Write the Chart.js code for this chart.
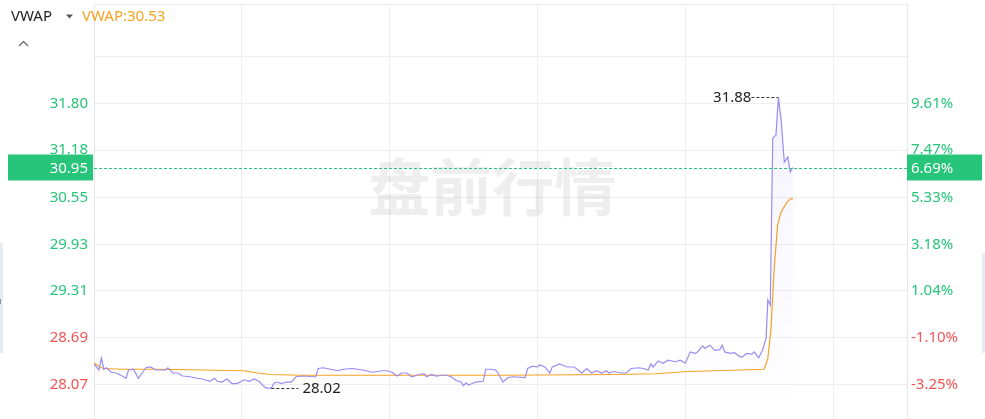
<!DOCTYPE html>
<html>
<head>
<meta charset="utf-8">
<script src="https://cdn.jsdelivr.net/npm/chart.js@4.4.0/dist/chart.umd.min.js"></script>
<style>
  html, body { margin: 0; padding: 0; background: #fff; }
  #wrap { width: 985px; height: 419px; position: relative; }
</style>
</head>
<body>
<div id="wrap"><canvas id="chart" width="985" height="419"></canvas></div>
<script>
// minutes after 04:00 (premarket), price of each tick
const times = [0, 2, 3, 4, 5, 7, 9, 12, 13, 14, 16, 18, 20, 21, 23, 25, 29, 30, 32, 34, 36, 39, 42, 44, 47, 49, 50, 52, 54, 56, 58,
  61, 63, 65, 67, 69, 70, 72, 73, 74, 76, 78, 80, 82, 85, 89, 90, 91, 93, 96, 99, 101, 105, 109, 113, 117, 119,
  121, 123, 125, 127, 129, 132, 134, 135, 137, 139, 141, 143, 145, 147, 149, 150, 151, 152, 155, 158, 159,
  161, 163, 164, 166, 168, 170, 175, 176, 178, 180, 181, 183, 185, 186, 189, 192, 195, 198, 200, 202, 204,
  206, 208, 209, 211, 214, 216, 218, 221, 223, 225, 226, 227, 229, 231, 233, 236, 238, 240, 242, 244, 245,
  247, 248, 250, 252, 254, 255, 256, 258, 260, 262, 263, 265, 267, 268, 269.8, 271.4, 272.4, 272.8, 273.5,
  274.5, 275.5, 276.8, 277.8, 278.9, 280.2, 281.6, 282.6, 283.7];
const prices = [28.34, 28.26, 28.42, 28.27, 28.29, 28.23, 28.22, 28.17, 28.15, 28.26, 28.27, 28.15, 28.24, 28.29, 28.30, 28.26, 28.26, 28.29, 28.22, 28.22, 28.18, 28.17, 28.15, 28.14, 28.11, 28.15, 28.11, 28.10, 28.14, 28.08, 28.08,
  28.13, 28.11, 28.14, 28.11, 28.04, 28.02, 28.02, 28.08, 28.10, 28.08, 28.10, 28.10, 28.17, 28.18, 28.17, 28.17, 28.28, 28.29, 28.27, 28.25, 28.27, 28.28, 28.26, 28.23, 28.25, 28.25,
  28.23, 28.18, 28.22, 28.22, 28.17, 28.20, 28.21, 28.17, 28.20, 28.18, 28.19, 28.19, 28.17, 28.12, 28.10, 28.05, 28.09, 28.06, 28.10, 28.11, 28.27,
  28.27, 28.26, 28.22, 28.10, 28.16, 28.17, 28.16, 28.28, 28.31, 28.30, 28.33, 28.30, 28.22, 28.30, 28.34, 28.30, 28.30, 28.22, 28.28, 28.22, 28.25,
  28.22, 28.25, 28.22, 28.24, 28.22, 28.22, 28.28, 28.29, 28.28, 28.26, 28.34, 28.30, 28.38, 28.35, 28.39, 28.37, 28.39, 28.35, 28.50, 28.48, 28.50,
  28.58, 28.55, 28.59, 28.52, 28.53, 28.59, 28.50, 28.48, 28.49, 28.44, 28.43, 28.48, 28.47, 28.50, 28.42, 28.53, 28.64, 28.68, 29.19,
  29.12, 31.34, 31.38, 31.88, 31.59, 31.02, 31.09, 30.89, 30.95];

const vwapTimes = [0, 3.7, 11.8, 25.6, 44.3, 60.6, 66.3, 71.5, 83.7, 124.4, 165, 211.8, 228, 241, 252.5, 272, 273.5, 274.8, 276.1, 277.5, 278.9, 280.2, 281.6, 282.9, 283.7];
const vwapValues = [28.35, 28.28, 28.27, 28.27, 28.26, 28.25, 28.22, 28.20, 28.19, 28.19, 28.19, 28.20, 28.21, 28.24, 28.25, 28.27, 28.41, 28.81, 29.61, 30.19, 30.36, 30.43, 30.50, 30.54, 30.53];

const priceTicks = [28.07, 28.69, 29.31, 29.93, 30.55, 31.18, 31.80, 32.42];
const priceLabels = ['28.07', '28.69', '29.31', '29.93', '30.55', '31.18', '31.80', ''];
const pctLabels = ['-3.25%', '-1.10%', '1.04%', '3.18%', '5.33%', '7.47%', '9.61%', ''];

const lastPrice = 30.95;
const lastPct = '6.69%';
const vwapLast = 30.53;

const GREEN = '#26c57a';
const RED = '#f05454';
const PURPLE = '#9a8cf2';
const ORANGE = '#f7a21e';
const FONT = '"Noto Sans", "Open Sans", sans-serif';

const tickColor = (c) => (c.index < 2 ? RED : GREEN);

const overlay = {
  id: 'overlay',
  beforeDatasetsDraw(chart) {
    const { ctx, chartArea: a } = chart;
    ctx.save();
    // watermark
    ctx.font = 'bold 62px "Noto Sans CJK SC"';
    ctx.fillStyle = 'rgba(0,0,0,0.065)';
    ctx.textAlign = 'center';
    ctx.textBaseline = 'middle';
    ctx.fillText('盘前行情', a.left + (a.right - a.left) * 0.49, 187);
    // top border
    ctx.strokeStyle = '#ebebeb';
    ctx.lineWidth = 1;
    ctx.beginPath();
    ctx.moveTo(a.left, a.top + 0.5);
    ctx.lineTo(a.right, a.top + 0.5);
    ctx.stroke();
    ctx.restore();
  },
  afterDraw(chart) {
    const { ctx, chartArea: a } = chart;
    const xs = chart.scales.x, ys = chart.scales.y;
    ctx.save();

    // last price dashed line
    const ly = Math.round(ys.getPixelForValue(lastPrice)) + 0.5;
    ctx.strokeStyle = GREEN;
    ctx.lineWidth = 1;
    ctx.setLineDash([3, 2]);
    ctx.beginPath();
    ctx.moveTo(a.left, ly);
    ctx.lineTo(a.right, ly);
    ctx.stroke();
    ctx.setLineDash([]);

    // price boxes
    ctx.fillStyle = GREEN;
    ctx.fillRect(8, ly - 14, 85, 26);
    ctx.fillRect(a.right, ly - 14, 75, 26);
    ctx.font = '15px ' + FONT;
    ctx.fillStyle = '#fff';
    ctx.textBaseline = 'middle';
    ctx.textAlign = 'right';
    ctx.fillText(lastPrice.toFixed(2), 88, ly);
    ctx.textAlign = 'left';
    ctx.fillText(lastPct, a.right + 4, ly);

    // max / min marks
    let hi = 0, lo = 0;
    prices.forEach((p, i) => {
      if (p > prices[hi]) hi = i;
      if (p <= prices[lo]) lo = i;
    });
    ctx.strokeStyle = '#333';
    ctx.fillStyle = '#222';
    ctx.setLineDash([3, 2]);
    const hx = xs.getPixelForValue(times[hi]), hy = Math.round(ys.getPixelForValue(prices[hi])) + 0.5;
    ctx.beginPath();
    ctx.moveTo(hx - 27, hy);
    ctx.lineTo(hx, hy);
    ctx.stroke();
    const mx = xs.getPixelForValue(times[lo]), my = Math.round(ys.getPixelForValue(prices[lo])) + 0.5;
    ctx.beginPath();
    ctx.moveTo(mx, my);
    ctx.lineTo(mx + 27, my);
    ctx.stroke();
    ctx.setLineDash([]);
    ctx.textAlign = 'right';
    ctx.fillText(prices[hi].toFixed(2), hx - 27, hy);
    ctx.textAlign = 'left';
    ctx.fillText(prices[lo].toFixed(2), mx + 31, my);

    // header
    ctx.font = '15px ' + FONT;
    ctx.fillStyle = '#222';
    ctx.fillText('VWAP', 11, 17);
    ctx.fillStyle = '#555';
    ctx.beginPath();
    ctx.moveTo(66, 14.5);
    ctx.lineTo(73, 14.5);
    ctx.lineTo(69.5, 18.5);
    ctx.closePath();
    ctx.fill();
    ctx.fillStyle = ORANGE;
    ctx.fillText('VWAP:' + vwapLast.toFixed(2), 82, 17);
    ctx.strokeStyle = '#777';
    ctx.lineWidth = 1.5;
    ctx.beginPath();
    ctx.moveTo(19, 46);
    ctx.lineTo(23.5, 41.5);
    ctx.lineTo(28, 46);
    ctx.stroke();

    // side panels
    ctx.fillStyle = '#e7ecf3';
    ctx.fillRect(0, 243, 3, 110);
    ctx.fillRect(982, 253, 3, 100);
    ctx.fillStyle = '#8a93a3';
    ctx.fillRect(0, 299, 1, 5);
    ctx.restore();
  }
};

new Chart(document.getElementById('chart'), {
  type: 'line',
  data: {
    datasets: [{
      label: 'price',
      data: times.map((t, i) => ({ x: t, y: prices[i] })),
      borderColor: PURPLE,
      borderWidth: 1.2,
      pointRadius: 0,
      tension: 0,
      fill: 'start',
      backgroundColor: (c) => {
        const a = c.chart.chartArea;
        if (!a) return 'transparent';
        const g = c.chart.ctx.createLinearGradient(0, a.top, 0, a.bottom);
        g.addColorStop(0, 'rgba(154,140,242,0.13)');
        g.addColorStop(1, 'rgba(154,140,242,0)');
        return g;
      }
    }, {
      label: 'VWAP',
      data: vwapTimes.map((t, i) => ({ x: t, y: vwapValues[i] })),
      borderColor: ORANGE,
      borderWidth: 1.2,
      pointRadius: 0,
      tension: 0,
      fill: false
    }]
  },
  options: {
    responsive: false,
    animation: false,
    layout: { padding: { top: 4, left: 0, right: 0, bottom: 0 } },
    plugins: { legend: { display: false }, tooltip: { enabled: false } },
    scales: {
      x: {
        type: 'linear',
        min: 0,
        max: 330,
        ticks: { display: false, stepSize: 60 },
        grid: { color: '#eeeeee', drawTicks: false },
        border: { display: false },
        afterFit(s) { s.height = 0; }
      },
      y: {
        position: 'left',
        min: 27.609,
        max: 33.122,
        afterBuildTicks(s) { s.ticks = priceTicks.map(v => ({ value: v })); },
        afterFit(s) { s.width = 94; s.paddingTop = 0; s.paddingBottom = 0; },
        ticks: { padding: 6, autoSkip: false, font: { family: FONT, size: 15 }, color: tickColor, callback: (v, i) => priceLabels[i] },
        grid: { color: '#eeeeee', drawTicks: false },
        border: { color: '#e8e8e8' }
      },
      y2: {
        position: 'right',
        min: 27.609,
        max: 33.122,
        afterBuildTicks(s) { s.ticks = priceTicks.map(v => ({ value: v })); },
        afterFit(s) { s.width = 78; s.paddingTop = 0; s.paddingBottom = 0; },
        ticks: { padding: 4, autoSkip: false, font: { family: FONT, size: 15 }, color: tickColor, callback: (v, i) => pctLabels[i] },
        grid: { display: false, drawTicks: false },
        border: { color: '#e3e7ee' }
      }
    }
  },
  plugins: [overlay]
});
</script>
</body>
</html>
